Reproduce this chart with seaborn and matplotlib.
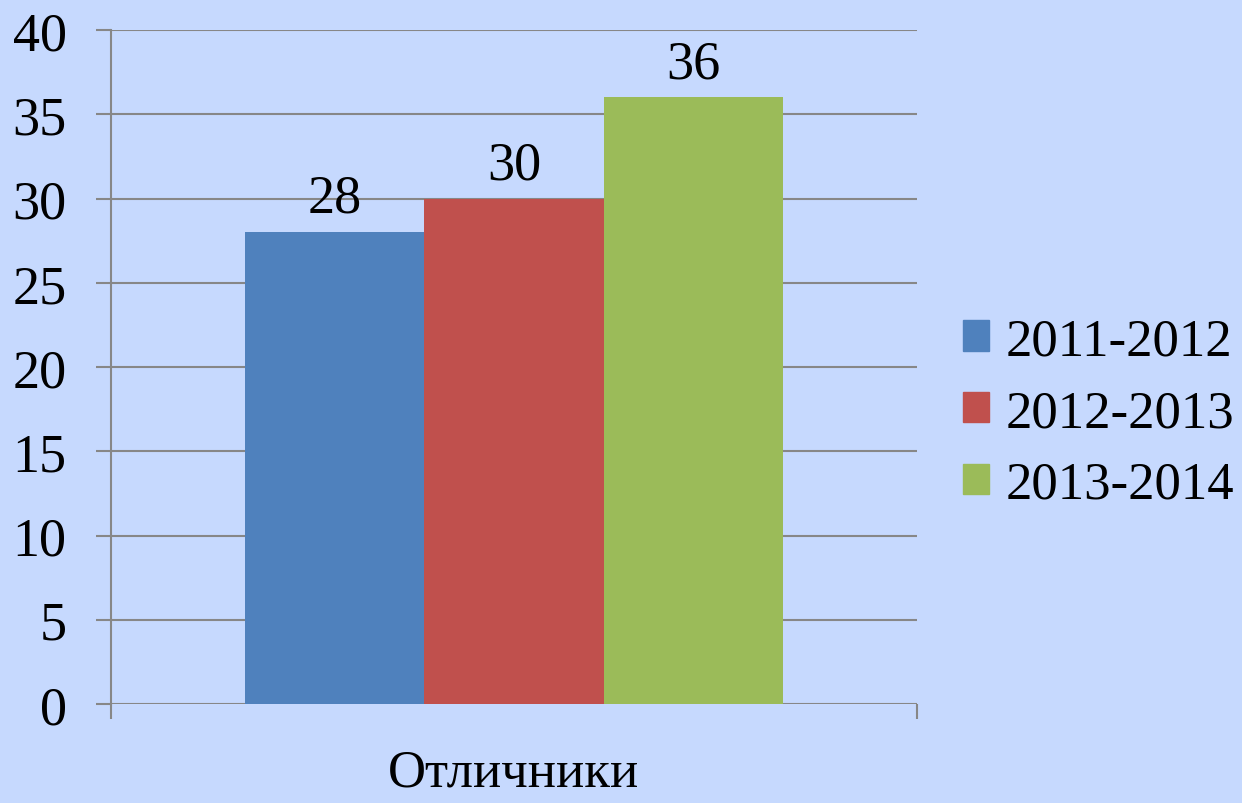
import pandas as pd
import matplotlib.pyplot as plt
import seaborn as sns

# chart data
categories = ['Отличники']
years = ['2011-2012', '2012-2013', '2013-2014']
values = [28, 30, 36]
colors = ['#4F81BD', '#C0504D', '#9BBB59']
y_ticks = [0, 5, 10, 15, 20, 25, 30, 35, 40]

df = pd.DataFrame({
    'category': categories * len(years),
    'year': years,
    'value': values,
})

bg = '#C6D9FE'
grid_color = '#878787'

sns.set_style('white')
plt.rcParams['font.family'] = ['Liberation Serif', 'DejaVu Serif']
plt.rcParams['text.color'] = 'black'
plt.rcParams['xtick.labelcolor'] = 'black'
plt.rcParams['ytick.labelcolor'] = 'black'

fig = plt.figure(figsize=(12.42, 8.04), dpi=100, facecolor=bg)
ax = fig.add_axes([111 / 1242, 1 - 705 / 804, (917 - 111) / 1242, (705 - 31) / 804])
ax.set_facecolor(bg)

sns.barplot(data=df, x='category', y='value', hue='year', palette=colors,
            width=0.667, saturation=1, ax=ax, legend=False, zorder=3,
            linewidth=0, edgecolor='none')

# value labels
for cont in ax.containers:
    ax.bar_label(cont, fontsize=39, padding=6, color='black')

ax.set_ylim(0, 40)
ax.set_xlim(-0.5, 0.5)
ax.set_yticks(y_ticks)
ax.set_yticklabels([str(t) for t in y_ticks], fontsize=39)
ax.yaxis.grid(True, color=grid_color, linewidth=1.5, zorder=0)
ax.set_axisbelow(True)

# x axis: boundary ticks only, category name as minor tick label
ax.set_xticks([-0.5, 0.5])
ax.set_xticklabels(['', ''])
ax.set_xticks([0], categories, minor=True)
ax.tick_params(axis='x', which='minor', bottom=True, length=0, pad=32, labelsize=38,
               labelcolor='black')
ax.tick_params(axis='x', which='major', bottom=True, length=11, width=1.5,
               color=grid_color, direction='out')
ax.tick_params(axis='y', left=True, length=11, width=1.5, color=grid_color,
               direction='out', pad=21, labelcolor='black')
ax.set_xlabel('')
ax.set_ylabel('')

for side in ['top', 'right', 'bottom']:
    ax.spines[side].set_visible(False)
ax.spines['left'].set_color(grid_color)
ax.spines['left'].set_linewidth(1.5)

handles = [plt.Rectangle((0, 0), 1, 1, color=c) for c in colors]
leg = fig.legend(handles, years, loc='center left', bbox_to_anchor=(963 / 1242, 1 - 414 / 804),
                 frameon=False, fontsize=38, handlelength=0.5, handleheight=0.5,
                 handletextpad=0.3, labelspacing=0.45, borderpad=0, borderaxespad=0)
for t in leg.get_texts():
    t.set_color('black')

fig.savefig('out.png', dpi=100, facecolor=bg)
plt.close(fig)
